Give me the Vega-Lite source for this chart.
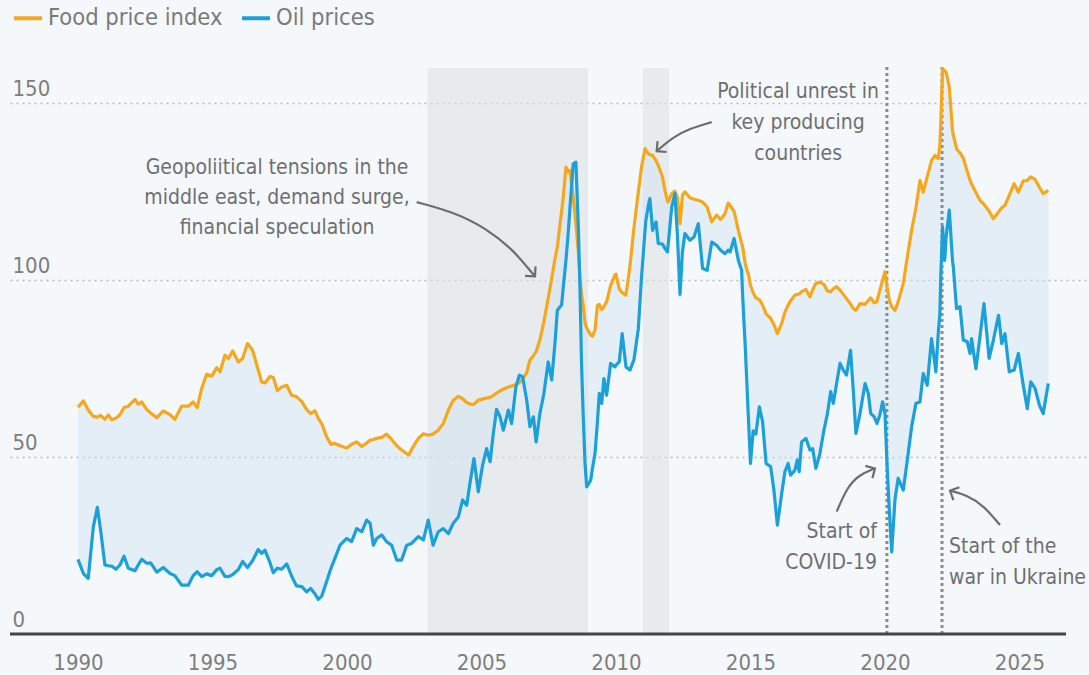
{
  "$schema": "https://vega.github.io/schema/vega-lite/v6.json",
  "usermeta": {"embedOptions": {"actions": false}},
  "width": 1079,
  "height": 566,
  "autosize": {"type": "none"},
  "padding": {"left": 10, "top": 68, "right": 0, "bottom": 41},
  "background": "#f4f8fb",
  "config": {
    "view": {"stroke": null},
    "font": "DejaVu Sans Condensed, DejaVu Sans, sans-serif",
    "numberFormat": "d",
    "axisX": {"grid": false, "domain": false, "ticks": false, "tickSize": 0, "labelPadding": 18, "labelFontSize": 22, "labelColor": "#7d7d7d", "labelFlush": false, "labelFont": "DejaVu Sans Condensed, DejaVu Sans, sans-serif"},
    "axisY": {"grid": true, "gridColor": "#b9b9b9", "gridDash": [2, 4], "gridWidth": 1.6, "domain": false, "ticks": false, "tickSize": 0, "labelAlign": "left", "labelBaseline": "alphabetic", "labelPadding": -2, "labelOffset": -8, "labelFontSize": 22, "labelColor": "#7d7d7d", "tickCount": 4, "labelFont": "DejaVu Sans Condensed, DejaVu Sans, sans-serif"}
  },
  "datasets": {
    "bands": [{"start": 2003.0, "end": 2008.96}, {"start": 2011.0, "end": 2011.97}],
    "events": [{"t": 2020.07, "event": "Start of COVID-19"}, {"t": 2022.12, "event": "Start of the war in Ukraine"}],
    "series": [
      {"t":1990.00,"food":64.1,"oil":21.1},{"t":1990.20,"food":65.9,"oil":17.1},{"t":1990.38,"food":63.3,"oil":15.7},{"t":1990.57,"food":61.5,"oil":30.3},{"t":1990.72,"food":61.3,"oil":35.8},{"t":1990.84,"food":61.8,"oil":29.4},
      {"t":1991.00,"food":60.7,"oil":19.5},{"t":1991.13,"food":61.9,"oil":19.3},{"t":1991.25,"food":60.6,"oil":19.2},{"t":1991.41,"food":61.0,"oil":18.3},{"t":1991.56,"food":62.0,"oil":19.5},{"t":1991.71,"food":64.0,"oil":22.0},{"t":1991.87,"food":64.4,"oil":18.6},
      {"t":1992.12,"food":66.3,"oil":17.9},{"t":1992.24,"food":65.0,"oil":19.5},{"t":1992.37,"food":65.6,"oil":21.1},{"t":1992.55,"food":63.5,"oil":20.0},{"t":1992.70,"food":62.5,"oil":20.1},{"t":1992.93,"food":61.1,"oil":17.5},
      {"t":1993.17,"food":63.1,"oil":18.8},{"t":1993.42,"food":62.0,"oil":17.1},{"t":1993.60,"food":60.7,"oil":16.5},{"t":1993.85,"food":64.4,"oil":13.8},
      {"t":1994.10,"food":64.4,"oil":13.8},{"t":1994.28,"food":65.6,"oil":16.5},{"t":1994.43,"food":64.0,"oil":17.6},{"t":1994.60,"food":69.4,"oil":16.2},{"t":1994.78,"food":73.4,"oil":17.0},{"t":1994.97,"food":72.9,"oil":16.5},
      {"t":1995.16,"food":75.3,"oil":18.2},{"t":1995.28,"food":74.1,"oil":18.6},{"t":1995.46,"food":78.8,"oil":16.3},{"t":1995.59,"food":77.9,"oil":16.2},{"t":1995.75,"food":80.0,"oil":16.8},{"t":1995.96,"food":76.9,"oil":18.2},
      {"t":1996.12,"food":77.9,"oil":20.5},{"t":1996.30,"food":82.1,"oil":18.8},{"t":1996.49,"food":80.2,"oil":20.7},{"t":1996.70,"food":74.6,"oil":23.9},{"t":1996.83,"food":71.2,"oil":22.8},{"t":1996.95,"food":71.0,"oil":23.7},
      {"t":1997.14,"food":72.8,"oil":20.1},{"t":1997.26,"food":72.5,"oil":17.3},{"t":1997.41,"food":68.8,"oil":18.6},{"t":1997.57,"food":69.8,"oil":18.3},{"t":1997.76,"food":70.3,"oil":19.8},{"t":1997.94,"food":67.5,"oil":16.4},
      {"t":1998.12,"food":67.1,"oil":13.6},{"t":1998.32,"food":65.7,"oil":13.4},{"t":1998.50,"food":63.5,"oil":11.9},{"t":1998.65,"food":62.3,"oil":12.9},{"t":1998.81,"food":63.1,"oil":11.3},{"t":1998.93,"food":61.0,"oil":9.8},
      {"t":1999.06,"food":59.5,"oil":10.7},{"t":1999.24,"food":55.8,"oil":14.8},{"t":1999.40,"food":53.6,"oil":18.5},{"t":1999.55,"food":53.9,"oil":21.4},{"t":1999.74,"food":53.2,"oil":25.1},{"t":1999.99,"food":52.6,"oil":27.0},
      {"t":2000.17,"food":53.6,"oil":26.1},{"t":2000.36,"food":54.3,"oil":29.8},{"t":2000.55,"food":53.0,"oil":28.9},{"t":2000.73,"food":54.0,"oil":32.2},{"t":2000.86,"food":54.8,"oil":31.3},{"t":2000.98,"food":55.0,"oil":25.1},
      {"t":2001.10,"food":55.3,"oil":27.0},{"t":2001.29,"food":55.6,"oil":28.0},{"t":2001.47,"food":56.5,"oil":26.1},{"t":2001.66,"food":55.0,"oil":25.1},{"t":2001.85,"food":53.2,"oil":20.9},
      {"t":2002.03,"food":52.0,"oil":20.9},{"t":2002.22,"food":51.0,"oil":25.1},{"t":2002.30,"food":50.6,"oil":25.3},{"t":2002.40,"food":52.2,"oil":25.6},{"t":2002.65,"food":55.3,"oil":27.5},{"t":2002.84,"food":56.6,"oil":26.6},
      {"t":2003.02,"food":56.2,"oil":32.2},{"t":2003.20,"food":56.5,"oil":25.1},{"t":2003.39,"food":57.6,"oil":28.9},{"t":2003.58,"food":59.5,"oil":29.8},{"t":2003.77,"food":63.3,"oil":28.4},{"t":2003.95,"food":66.1,"oil":31.3},
      {"t":2004.14,"food":67.2,"oil":33.1},{"t":2004.30,"food":66.5,"oil":37.9},{"t":2004.45,"food":65.4,"oil":36.4},{"t":2004.57,"food":65.0,"oil":42.6},{"t":2004.72,"food":64.9,"oil":49.6},{"t":2004.88,"food":66.1,"oil":40.2},
      {"t":2005.04,"food":66.4,"oil":47.7},{"t":2005.19,"food":66.7,"oil":52.4},{"t":2005.32,"food":66.9,"oil":48.7},{"t":2005.44,"food":67.4,"oil":56.7},{"t":2005.56,"food":68.1,"oil":63.5},{"t":2005.69,"food":68.7,"oil":61.4},{"t":2005.81,"food":69.2,"oil":57.6},
      {"t":2006.00,"food":69.8,"oil":63.3},{"t":2006.12,"food":70.1,"oil":59.5},{"t":2006.28,"food":70.5,"oil":69.9},{"t":2006.41,"food":71.0,"oil":73.2},{"t":2006.53,"food":72.1,"oil":72.7},{"t":2006.68,"food":73.8,"oil":66.1},{"t":2006.80,"food":77.4,"oil":58.6},{"t":2006.93,"food":78.7,"oil":61.4},
      {"t":2007.03,"food":79.8,"oil":54.3},{"t":2007.17,"food":83.1,"oil":62.3},{"t":2007.32,"food":88.3,"oil":68.0},{"t":2007.48,"food":95.0,"oil":76.9},{"t":2007.61,"food":100.5,"oil":71.8},{"t":2007.73,"food":106.0,"oil":82.1},{"t":2007.82,"food":109.4,"oil":91.5},{"t":2007.92,"food":116.0,"oil":92.5},{"t":2007.98,"food":119.5,"oil":93.0},
      {"t":2008.04,"food":123.5,"oil":98.0},{"t":2008.14,"food":132.0,"oil":105.6},{"t":2008.23,"food":130.6,"oil":114.0},{"t":2008.29,"food":131.1,"oil":120.7},{"t":2008.41,"food":123.5,"oil":132.9},{"t":2008.51,"food":116.0,"oil":133.4},{"t":2008.60,"food":108.0,"oil":115.0},{"t":2008.66,"food":101.0,"oil":98.0},{"t":2008.72,"food":96.0,"oil":76.0},{"t":2008.78,"food":93.0,"oil":62.0},{"t":2008.85,"food":88.0,"oil":48.0},{"t":2008.91,"food":86.5,"oil":41.6},
      {"t":2009.06,"food":84.5,"oil":43.5},{"t":2009.13,"food":84.2,"oil":47.0},{"t":2009.22,"food":86.0,"oil":51.0},{"t":2009.31,"food":92.9,"oil":60.0},{"t":2009.38,"food":93.2,"oil":68.0},{"t":2009.47,"food":91.7,"oil":65.2},{"t":2009.55,"food":92.5,"oil":72.2},{"t":2009.65,"food":93.9,"oil":67.5},{"t":2009.80,"food":98.5,"oil":76.5},{"t":2009.96,"food":101.5,"oil":75.5},
      {"t":2010.00,"food":101.7,"oil":76.0},{"t":2010.12,"food":97.5,"oil":76.9},{"t":2010.23,"food":96.5,"oil":84.9},{"t":2010.37,"food":95.8,"oil":75.5},{"t":2010.52,"food":104.0,"oil":74.6},{"t":2010.67,"food":115.0,"oil":77.6},{"t":2010.83,"food":125.0,"oil":86.3},{"t":2010.95,"food":132.0,"oil":101.0},
      {"t":2011.08,"food":137.2,"oil":114.0},{"t":2011.11,"food":136.8,"oil":116.9},{"t":2011.20,"food":135.8,"oil":121.0},{"t":2011.26,"food":135.5,"oil":123.1},{"t":2011.36,"food":135.3,"oil":114.1},{"t":2011.49,"food":133.8,"oil":116.5},{"t":2011.57,"food":132.5,"oil":110.4},{"t":2011.73,"food":129.2,"oil":110.2},{"t":2011.82,"food":125.4,"oil":109.0},{"t":2011.91,"food":122.5,"oil":108.0},{"t":2011.94,"food":122.1,"oil":110.0},
      {"t":2012.07,"food":124.5,"oil":120.7},{"t":2012.19,"food":125.2,"oil":124.5},{"t":2012.28,"food":123.5,"oil":113.2},{"t":2012.38,"food":116.0,"oil":96.0},{"t":2012.47,"food":124.0,"oil":108.0},{"t":2012.56,"food":125.0,"oil":113.2},{"t":2012.75,"food":123.3,"oil":111.3},{"t":2012.90,"food":122.9,"oil":112.2},
      {"t":2013.06,"food":122.6,"oil":116.0},{"t":2013.22,"food":122.1,"oil":103.3},{"t":2013.39,"food":120.7,"oil":102.8},{"t":2013.56,"food":116.5,"oil":110.8},{"t":2013.74,"food":118.4,"oil":109.9},{"t":2013.89,"food":117.2,"oil":108.5},
      {"t":2014.05,"food":118.8,"oil":107.5},{"t":2014.17,"food":121.8,"oil":108.5},{"t":2014.24,"food":121.2,"oil":108.0},{"t":2014.39,"food":119.5,"oil":111.8},{"t":2014.55,"food":114.1,"oil":105.6},{"t":2014.67,"food":110.5,"oil":102.8},{"t":2014.71,"food":109.5,"oil":95.3},{"t":2014.80,"food":105.0,"oil":82.0},{"t":2014.86,"food":103.0,"oil":71.8},{"t":2014.92,"food":101.9,"oil":61.4},
      {"t":2015.00,"food":98.5,"oil":48.2},{"t":2015.10,"food":96.5,"oil":57.4},{"t":2015.20,"food":95.0,"oil":56.5},{"t":2015.33,"food":94.5,"oil":64.2},{"t":2015.45,"food":93.0,"oil":60.0},{"t":2015.58,"food":90.5,"oil":48.2},{"t":2015.75,"food":89.2,"oil":47.3},{"t":2015.87,"food":87.5,"oil":40.7},
      {"t":2016.00,"food":84.9,"oil":30.8},{"t":2016.16,"food":87.8,"oil":39.7},{"t":2016.28,"food":91.0,"oil":45.9},{"t":2016.40,"food":93.0,"oil":48.2},{"t":2016.49,"food":94.2,"oil":44.9},{"t":2016.65,"food":95.8,"oil":46.3},{"t":2016.74,"food":96.0,"oil":49.2},{"t":2016.81,"food":96.1,"oil":45.9},{"t":2016.90,"food":96.8,"oil":54.3},
      {"t":2017.06,"food":97.4,"oil":55.3},{"t":2017.21,"food":95.3,"oil":52.0},{"t":2017.31,"food":97.3,"oil":52.4},{"t":2017.43,"food":99.1,"oil":46.8},{"t":2017.58,"food":99.5,"oil":51.0},{"t":2017.73,"food":98.8,"oil":57.6},{"t":2017.86,"food":97.0,"oil":62.3},{"t":2017.98,"food":96.8,"oil":68.5},
      {"t":2018.08,"food":97.6,"oil":65.2},{"t":2018.20,"food":98.2,"oil":70.8},{"t":2018.33,"food":97.2,"oil":76.5},{"t":2018.45,"food":96.0,"oil":74.6},{"t":2018.57,"food":94.8,"oil":73.2},{"t":2018.72,"food":93.3,"oil":80.2},{"t":2018.82,"food":92.0,"oil":68.9},{"t":2018.92,"food":91.5,"oil":56.7},
      {"t":2019.07,"food":93.4,"oil":62.3},{"t":2019.26,"food":93.2,"oil":70.8},{"t":2019.38,"food":94.3,"oil":68.0},{"t":2019.47,"food":95.0,"oil":62.3},{"t":2019.60,"food":93.6,"oil":61.4},{"t":2019.70,"food":94.0,"oil":59.5},{"t":2019.81,"food":97.2,"oil":61.9},{"t":2019.91,"food":100.0,"oil":65.6},
      {"t":2020.00,"food":102.4,"oil":62.3},{"t":2020.08,"food":98.0,"oil":47.3},{"t":2020.16,"food":94.4,"oil":35.0},{"t":2020.25,"food":92.5,"oil":23.2},{"t":2020.37,"food":91.5,"oil":38.0},{"t":2020.49,"food":93.9,"oil":44.0},{"t":2020.68,"food":99.1,"oil":40.7},{"t":2020.83,"food":106.6,"oil":49.2},{"t":2020.99,"food":114.1,"oil":58.6},
      {"t":2021.15,"food":120.5,"oil":65.2},{"t":2021.30,"food":128.2,"oil":65.6},{"t":2021.42,"food":124.9,"oil":73.6},{"t":2021.57,"food":129.2,"oil":70.3},{"t":2021.73,"food":133.9,"oil":83.5},{"t":2021.86,"food":135.3,"oil":76.0},{"t":2021.89,"food":135.0,"oil":74.1},{"t":2021.98,"food":134.4,"oil":85.0},
      {"t":2022.04,"food":138.0,"oil":90.5},{"t":2022.07,"food":143.3,"oil":100.0},{"t":2022.14,"food":159.8,"oil":115.1},{"t":2022.22,"food":159.2,"oil":105.6},{"t":2022.27,"food":158.9,"oil":112.0},{"t":2022.39,"food":154.7,"oil":119.8},{"t":2022.51,"food":142.4,"oil":105.5},{"t":2022.54,"food":141.0,"oil":103.8},{"t":2022.66,"food":137.2,"oil":92.0},{"t":2022.79,"food":136.0,"oil":92.5},{"t":2022.91,"food":134.5,"oil":83.1},
      {"t":2023.06,"food":130.7,"oil":82.6},{"t":2023.16,"food":128.3,"oil":79.3},{"t":2023.22,"food":127.2,"oil":83.5},{"t":2023.38,"food":124.8,"oil":75.0},{"t":2023.53,"food":122.6,"oil":84.0},{"t":2023.68,"food":121.5,"oil":93.4},{"t":2023.87,"food":119.5,"oil":77.9},
      {"t":2024.03,"food":117.4,"oil":83.1},{"t":2024.22,"food":119.3,"oil":90.1},{"t":2024.34,"food":120.5,"oil":82.1},{"t":2024.46,"food":121.2,"oil":84.9},{"t":2024.62,"food":124.0,"oil":74.1},{"t":2024.80,"food":127.3,"oil":74.6},{"t":2024.96,"food":124.9,"oil":79.3},
      {"t":2025.14,"food":128.1,"oil":70.3},{"t":2025.29,"food":128.2,"oil":63.7},{"t":2025.42,"food":129.2,"oil":71.3},{"t":2025.58,"food":128.5,"oil":69.4},{"t":2025.74,"food":126.3,"oil":64.7},{"t":2025.88,"food":124.5,"oil":62.3},{"t":2026.07,"food":125.4,"oil":70.8}
    ],
    "arrows": [
      {"arrow":"geo","i":0,"t":2002.591,"v":122.1},{"arrow":"geo","i":1,"t":2003.952,"v":119.3},{"arrow":"geo","i":2,"t":2005.193,"v":114.6},{"arrow":"geo","i":3,"t":2006.182,"v":108.5},{"arrow":"geo","i":4,"t":2006.740,"v":103.3},{"arrow":"geo","i":5,"t":2006.989,"v":101.1},
      {"arrow":"pol","i":0,"t":2013.558,"v":144.7},{"arrow":"pol","i":1,"t":2012.751,"v":142.9},{"arrow":"pol","i":2,"t":2012.130,"v":140.5},{"arrow":"pol","i":3,"t":2011.513,"v":136.5},
      {"arrow":"cov","i":0,"t":2018.205,"v":34.6},{"arrow":"cov","i":1,"t":2018.576,"v":41.2},{"arrow":"cov","i":2,"t":2019.007,"v":44.9},{"arrow":"cov","i":3,"t":2019.628,"v":46.8},
      {"arrow":"ukr","i":0,"t":2024.275,"v":30.8},{"arrow":"ukr","i":1,"t":2023.654,"v":36.4},{"arrow":"ukr","i":2,"t":2023.037,"v":39.3},{"arrow":"ukr","i":3,"t":2022.416,"v":40.5}
    ]
  },
  "layer": [
    {
      "data": {"name": "bands"},
      "mark": {"type": "rect", "color": "#dfe2e6", "opacity": 0.6},
      "encoding": {
        "x": {"field": "start", "type": "quantitative", "title": null, "scale": {"domain": [1987.472, 2027.584], "nice": false, "zero": false}, "axis": {"values": [1990, 1995, 2000, 2005, 2010, 2015, 2020, 2025], "title": null, "format": "d"}},
        "x2": {"field": "end"},
        "y": {"datum": 0, "type": "quantitative", "title": null, "scale": {"domain": [0, 160], "nice": false, "zero": true}, "axis": {"values": [0, 50, 100, 150], "title": null, "gridOpacity": {"condition": {"test": "datum.value === 0", "value": 0}, "value": 1}}},
        "y2": {"datum": 160}
      }
    },
    {
      "data": {"name": "series"},
      "mark": {"type": "area", "color": "#cfe2f1", "opacity": 0.45},
      "encoding": {
        "x": {"field": "t", "type": "quantitative", "title": null},
        "y": {"field": "oil", "type": "quantitative", "title": null},
        "y2": {"field": "food"}
      }
    },
    {
      "data": {"name": "events"},
      "mark": {"type": "rule", "color": "#8c8c8c", "strokeWidth": 3, "strokeDash": [3, 3]},
      "encoding": {
        "x": {"field": "t", "type": "quantitative", "title": null},
        "y": {"datum": 0, "type": "quantitative", "title": null},
        "y2": {"datum": 161}
      }
    },
    {
      "data": {"name": "series"},
      "transform": [{"fold": ["food", "oil"], "as": ["key", "value"]}],
      "mark": {"type": "line", "strokeWidth": 3.2, "strokeJoin": "round"},
      "encoding": {
        "x": {"field": "t", "type": "quantitative", "title": null},
        "y": {"field": "value", "type": "quantitative", "title": null},
        "color": {
          "field": "key", "type": "nominal",
          "scale": {"domain": ["food", "oil"], "range": ["#f5a81c", "#1ba0d8"]},
          "legend": {"orient": "none", "legendX": 2, "legendY": -66, "direction": "horizontal", "title": null, "symbolType": "stroke", "symbolSize": 784, "symbolStrokeWidth": 4, "labelFontSize": 23.5, "labelColor": "#7a7a7a", "labelFont": "DejaVu Sans Condensed, DejaVu Sans, sans-serif", "labelOffset": 4, "columnPadding": 11, "labelLimit": 400, "labelExpr": "datum.value == 'food' ? 'Food price index' : 'Oil prices'"}
        }
      }
    },
    {
      "data": {"values": [{}]},
      "mark": {"type": "rule", "color": "#444444", "strokeWidth": 3},
      "encoding": {
        "x": {"datum": 1987.472, "type": "quantitative", "title": null},
        "x2": {"datum": 2026.73},
        "y": {"datum": 0, "type": "quantitative", "title": null}
      }
    },
    {
      "data": {"name": "arrows"},
      "mark": {"type": "line", "interpolate": "basis", "color": "#6d6d6d", "strokeWidth": 2.2},
      "encoding": {
        "x": {"field": "t", "type": "quantitative", "title": null},
        "y": {"field": "v", "type": "quantitative", "title": null},
        "detail": {"field": "arrow"},
        "order": {"field": "i"}
      }
    },
    {
      "data": {"values": [{}]},
      "mark": {"type": "point", "shape": "M-1,-1L0,0L-1,1", "filled": false, "stroke": "#6d6d6d", "strokeWidth": 2.2, "size": 200, "opacity": 1, "angle": 48},
      "encoding": {"x": {"datum": 2006.989, "type": "quantitative", "title": null}, "y": {"datum": 101.1, "type": "quantitative", "title": null}}
    },
    {
      "data": {"values": [{}]},
      "mark": {"type": "point", "shape": "M-1,-1L0,0L-1,1", "filled": false, "stroke": "#6d6d6d", "strokeWidth": 2.2, "size": 200, "opacity": 1, "angle": 140},
      "encoding": {"x": {"datum": 2011.513, "type": "quantitative", "title": null}, "y": {"datum": 136.5, "type": "quantitative", "title": null}}
    },
    {
      "data": {"values": [{}]},
      "mark": {"type": "point", "shape": "M-1,-1L0,0L-1,1", "filled": false, "stroke": "#6d6d6d", "strokeWidth": 2.2, "size": 200, "opacity": 1, "angle": -30},
      "encoding": {"x": {"datum": 2019.628, "type": "quantitative", "title": null}, "y": {"datum": 46.8, "type": "quantitative", "title": null}}
    },
    {
      "data": {"values": [{}]},
      "mark": {"type": "point", "shape": "M-1,-1L0,0L-1,1", "filled": false, "stroke": "#6d6d6d", "strokeWidth": 2.2, "size": 200, "opacity": 1, "angle": 205},
      "encoding": {"x": {"datum": 2022.416, "type": "quantitative", "title": null}, "y": {"datum": 40.5, "type": "quantitative", "title": null}}
    },
    {
      "data": {"values": [{}]},
      "mark": {"type": "text", "text": ["Geopoliitical tensions in the", "middle east, demand surge,", "financial speculation"], "align": "center", "baseline": "top", "fontSize": 21, "lineHeight": 30, "color": "#6f6f6f"},
      "encoding": {"x": {"datum": 1997.4, "type": "quantitative", "title": null}, "y": {"datum": 134.9, "type": "quantitative", "title": null}}
    },
    {
      "data": {"values": [{}]},
      "mark": {"type": "text", "text": ["Political unrest in", "key producing", "countries"], "align": "center", "baseline": "top", "fontSize": 21, "lineHeight": 31, "color": "#6f6f6f"},
      "encoding": {"x": {"datum": 2016.77, "type": "quantitative", "title": null}, "y": {"datum": 156.2, "type": "quantitative", "title": null}}
    },
    {
      "data": {"values": [{}]},
      "mark": {"type": "text", "text": ["Start of", "COVID-19"], "align": "right", "baseline": "top", "fontSize": 21, "lineHeight": 31, "color": "#6f6f6f"},
      "encoding": {"x": {"datum": 2019.7, "type": "quantitative", "title": null}, "y": {"datum": 31.9, "type": "quantitative", "title": null}}
    },
    {
      "data": {"values": [{}]},
      "mark": {"type": "text", "text": ["Start of the", "war in Ukraine"], "align": "left", "baseline": "top", "fontSize": 21, "lineHeight": 31, "color": "#6f6f6f"},
      "encoding": {"x": {"datum": 2022.38, "type": "quantitative", "title": null}, "y": {"datum": 27.7, "type": "quantitative", "title": null}}
    }
  ]
}
